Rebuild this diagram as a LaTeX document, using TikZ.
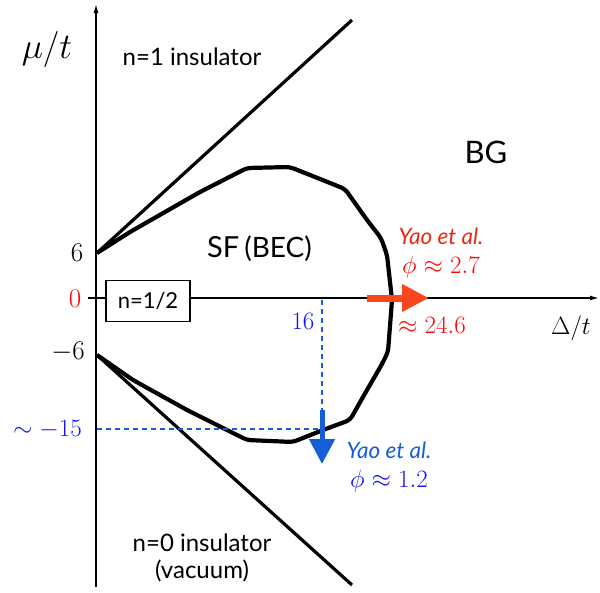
\RequirePackage{fix-cm}
\documentclass[tikz,border=0pt]{standalone}
\usepackage{fontspec}
\setmainfont{Lato}
\usetikzlibrary{arrows.meta}
\definecolor{arrred}{RGB}{250,70,30}
\definecolor{txtred}{RGB}{235,40,20}
\definecolor{arrblue}{RGB}{20,95,215}
\definecolor{mblue}{RGB}{20,20,245}
\definecolor{mred}{RGB}{245,10,10}
\begin{document}
\begin{tikzpicture}[x=1pt,y=-1pt,
  axis/.style={line width=1.3pt,-{Latex[length=9pt,width=5pt]}},
  bound/.style={line width=3.2pt},
  phase/.style={line width=4.2pt,line join=round,rounded corners=4pt},
  guide/.style={arrblue,line width=2pt,dash pattern=on 5pt off 4pt},
  lab/.style={inner sep=0pt},
  mathlab/.style={inner sep=0pt,font=\fontsize{25}{27}\selectfont},
  ticklab/.style={inner sep=0pt,font=\fontsize{27}{29}\selectfont},
  reg/.style={inner sep=0pt,font=\fontsize{24}{26}\selectfont},
  yao/.style={inner sep=0pt,font=\fontsize{22.5}{24}\selectfont\itshape},
]
\useasboundingbox (0,0) rectangle (600,592);
% axes
\coordinate (ybot) at (96,587);
\coordinate (ytop) at (96,4);
\coordinate (xl) at (88,298);
\coordinate (xr) at (599,298);
\draw[axis] (ybot) -- (ytop);
\draw[axis] (xl) -- (xr);
% boundaries of insulators
\coordinate (vtop) at (97,253);
\coordinate (vbot) at (97,355);
\coordinate (utop) at (352,20);
\coordinate (lbot) at (352,585);
\draw[bound] (vtop) -- (utop);
\draw[bound] (vbot) -- (lbot);
% SF region
\draw[phase] (vtop) -- (130,232) -- (200,192) -- (247,168) -- (290,167) -- (345,189)
  -- (367,220) -- (381,238) -- (387,255) -- (392,300) -- (388,352) -- (382,364)
  -- (363,397) -- (350,420) -- (323,430) -- (293,442) -- (247,440) -- (187,410)
  -- (133,380) -- (vbot);
% guides
\coordinate (d1) at (322,300);
\coordinate (d2) at (322,410);
\coordinate (h1) at (97,429);
\coordinate (h2) at (322,429);
\draw[guide] (d1) -- (d2);
\draw[guide] (h1) -- (h2);
% arrows
\coordinate (ra) at (367,298);
\coordinate (rb) at (429,298);
\draw[arrred,line width=7pt,-{Triangle[length=27pt,width=26pt]}] (ra) -- (rb);
\coordinate (bb) at (322,464);
\draw[arrblue,line width=5pt,-{Triangle[length=25pt,width=25pt]}] (d2) -- (bb);
% box
\node[draw,line width=1.3pt,fill=white,minimum width=84pt,minimum height=41pt,inner sep=0pt,font=\fontsize{22}{24}\selectfont] (half) at (148,301) {n=1/2};
% axis labels
\node[lab,font=\fontsize{36}{38}\selectfont] (mu) at (47,49) {$\mu/t$};
\node[lab,font=\fontsize{25}{27}\selectfont] (delta) at (571,328) {$\Delta/t$};
\node[ticklab] (six) at (77,253) {$6$};
\node[ticklab,text=mred] (zero) at (75,299) {$0$};
\node[ticklab,anchor=east] (msix) at (85,352) {$-6$};
\node[mathlab,text=mblue] (sixteen) at (303,321) {$16$};
\node[mathlab,text=mblue,anchor=east] (m15) at (82,429) {$\sim -15$};
% region labels
\node[reg,anchor=base] (n1) at (192,65) {n=1 insulator};
\node[inner sep=0pt,anchor=base,font=\fontsize{31}{33}\selectfont] (bg) at (486,163) {BG};
\node[inner sep=0pt,anchor=base west] (sf) at (207,257) {\fontsize{29}{31}\selectfont SF\hspace{5pt}\fontsize{28}{30}\selectfont(BEC)};
\node[reg] (n0) at (202,543) {n=0 insulator};
\node[reg] (vac) at (202,571) {(vacuum)};
% Yao et al.
\node[yao,text=txtred] (yr) at (441,236) {Yao et al.};
\node[mathlab,text=mred] (phr) at (441,267) {$\phi\approx 2.7$};
\node[mathlab,text=mred] (dr) at (432,325) {$\approx 24.6$};
\node[yao,text=arrblue] (yb) at (389,450) {Yao et al.};
\node[mathlab,text=mblue] (phb) at (389,481) {$\phi\approx 1.2$};
\end{tikzpicture}
\end{document}
